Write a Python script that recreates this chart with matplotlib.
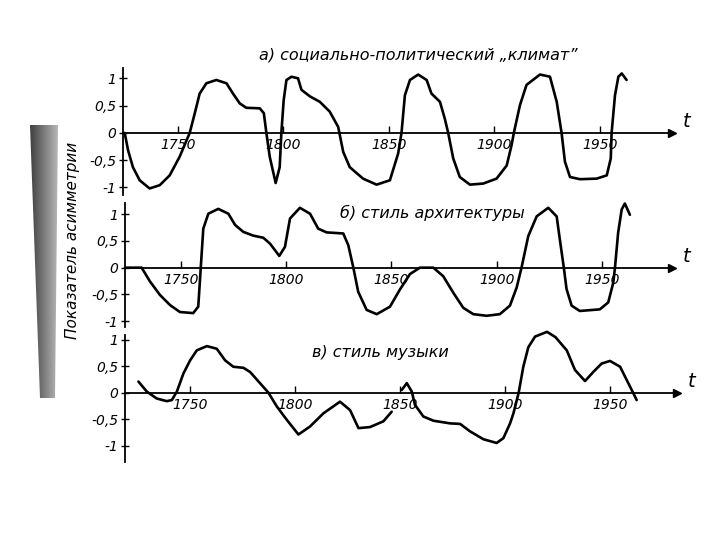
import numpy as np
import matplotlib.pyplot as plt
from matplotlib.patches import Polygon

# Данные: годы и показатель асимметрии
years_a = [1724.9, 1726.5, 1728.8, 1732, 1736.7, 1741.5, 1746.2, 1750.9, 1755.7, 1758.1,
           1760.4, 1763.6, 1768.3, 1773.1, 1776.2, 1779.4, 1782.5, 1788.9, 1790.8, 1792,
           1793.6, 1796.4, 1798.3, 1799.1, 1800.2, 1801.5, 1803.9, 1807, 1808.6, 1812.6,
           1817.3, 1822, 1826, 1828.4, 1831.5, 1837.8, 1844.2, 1850.5, 1854.4, 1856,
           1857.6, 1860, 1863.9, 1867.9, 1870.2, 1874.2, 1876.5, 1878.1, 1880.5, 1883.6,
           1888.4, 1894.7, 1901, 1905.8, 1908.1, 1909.2, 1912.1, 1915.2, 1921.6, 1926.3,
           1929.5, 1931.8, 1933.4, 1935.8, 1940.5, 1948.4, 1953.2, 1955.1, 1955.5, 1957.1,
           1958.7, 1960.3, 1962.6]
values_a = [0, -0.32, -0.63, -0.87, -1.02, -0.96, -0.78, -0.44, 0, 0.36,
            0.72, 0.91, 0.97, 0.91, 0.72, 0.54, 0.46, 0.45, 0.36, 0,
            -0.44, -0.92, -0.63, 0, 0.6, 0.97, 1.03, 1.0, 0.79, 0.67,
            0.57, 0.39, 0.11, -0.35, -0.63, -0.84, -0.95, -0.87, -0.38, 0,
            0.69, 0.97, 1.07, 0.97, 0.72, 0.57, 0.26, 0, -0.47, -0.81,
            -0.95, -0.93, -0.84, -0.6, -0.23, 0, 0.51, 0.88, 1.07, 1.03,
            0.57, 0, -0.53, -0.81, -0.85, -0.84, -0.78, -0.47, 0, 0.69,
            1.03, 1.09, 0.97]

years_b = [1723.4, 1731.3, 1735.3, 1740, 1744.8, 1749.5, 1755.8, 1758.2, 1759.4, 1760.6,
           1763, 1767.7, 1772.5, 1775.7, 1779.6, 1784.3, 1789.1, 1792.3, 1796.7, 1799.4,
           1801.8, 1806.5, 1811.3, 1815.2, 1819.2, 1827.1, 1829.5, 1831.9, 1834.2, 1838.2,
           1843, 1849.3, 1854, 1858.8, 1863.5, 1869.9, 1874.6, 1879.4, 1884.1, 1888.9,
           1895.2, 1901.5, 1906.3, 1909.5, 1911.8, 1915, 1919, 1924.5, 1928.5, 1930,
           1931.9, 1933.2, 1935.6, 1939.5, 1949, 1953, 1955.4, 1956.2, 1957.7, 1959.4,
           1960.9, 1963.3]
values_b = [0, 0, -0.26, -0.51, -0.7, -0.83, -0.85, -0.73, 0, 0.73,
            1.01, 1.1, 1.01, 0.8, 0.67, 0.6, 0.56, 0.45, 0.22, 0.39,
            0.92, 1.12, 1.01, 0.73, 0.66, 0.64, 0.42, 0, -0.45, -0.79,
            -0.87, -0.73, -0.41, -0.12, 0, 0, -0.16, -0.47, -0.75, -0.87,
            -0.9, -0.87, -0.71, -0.37, 0, 0.59, 0.96, 1.12, 0.96, 0.53,
            0, -0.4, -0.71, -0.81, -0.78, -0.65, -0.28, 0, 0.65, 1.09,
            1.2, 0.99]

# стиль музыки: две части (разрыв около 1850 г.)
years_c1 = [1725.4, 1729.4, 1734.1, 1738.9, 1741.3, 1743.7, 1746.8, 1750, 1753.2, 1758,
            1762.7, 1766.7, 1770.6, 1775.4, 1778.6, 1783.3, 1787.3, 1791.3, 1796, 1801.6,
            1807.1, 1813.5, 1821.4, 1826.2, 1830.2, 1835.7, 1842.1, 1846]
values_c1 = [0.21, 0.02, -0.11, -0.16, -0.14, 0.02, 0.36, 0.61, 0.8, 0.88,
             0.83, 0.61, 0.49, 0.47, 0.39, 0.18, 0, -0.26, -0.51, -0.79,
             -0.64, -0.39, -0.17, -0.33, -0.67, -0.65, -0.54, -0.36]
years_c2 = [1850.8, 1853.2, 1855.6, 1857.1, 1861.1, 1865.9, 1873.8, 1878.6, 1883.3, 1889.7,
            1896, 1899.2, 1902.4, 1904, 1906.5, 1908.7, 1911.1, 1914.3, 1920, 1924,
            1929.4, 1933.3, 1938.1, 1942, 1946, 1950, 1954.8, 1958.7, 1961.1, 1962.7]
values_c2 = [0.05, 0.18, 0.02, -0.23, -0.45, -0.53, -0.58, -0.59, -0.73, -0.88,
             -0.95, -0.86, -0.58, -0.39, 0, 0.49, 0.86, 1.06, 1.15, 1.05,
             0.8, 0.43, 0.22, 0.39, 0.55, 0.6, 0.49, 0.18, -0.01, -0.14]

year_ticks = [1750, 1800, 1850, 1900, 1950]
value_ticks = [1, 0.5, 0, -0.5, -1]
value_labels = ['1', '0,5', '0', '-0,5', '-1']

titles = ['а) социально-политический „климат”', 'б) стиль архитектуры', 'в) стиль музыки']
ylabel = 'Показатель асимметрии'

W, H = 720, 540
fig = plt.figure(figsize=(7.2, 5.4), dpi=100)


def add_panel(left, right, top, bottom, xlim, ylim):
    ax = fig.add_axes([left / W, 1 - bottom / H, (right - left) / W, (bottom - top) / H])
    ax.set_xlim(*xlim)
    ax.set_ylim(*ylim)
    ax.patch.set_alpha(0)
    for s in ['top', 'right']:
        ax.spines[s].set_visible(False)
    ax.spines['bottom'].set_position(('data', 0))
    ax.spines['left'].set_linewidth(1.3)
    ax.spines['bottom'].set_linewidth(1.3)
    ax.set_yticks(value_ticks)
    ax.set_yticklabels(value_labels, fontsize=10, style='italic')
    ax.set_xticks(year_ticks)
    ax.set_xticklabels([str(y) for y in year_ticks], fontsize=10, style='italic')
    ax.tick_params(axis='y', direction='inout', length=6, width=1, pad=2)
    ax.tick_params(axis='x', direction='in', length=5, width=1, pad=4)
    ax.plot(1, 0, '>', color='black', markersize=6, transform=ax.get_yaxis_transform(), clip_on=False)
    ax.text(1.02, 0.03, 't', transform=ax.get_yaxis_transform(), fontsize=14,
            style='italic', ha='left', va='bottom')
    return ax


line_kw = dict(color='black', lw=1.9, clip_on=False, solid_joinstyle='round', solid_capstyle='round')

ax_a = add_panel(123, 672, 68, 195, (1724.1, 1984.1), (-1.14, 1.19))
ax_a.plot(years_a, values_a, **line_kw)

ax_b = add_panel(125, 672, 203, 327, (1723.4, 1983.3), (-1.11, 1.21))
ax_b.plot(years_b, values_b, **line_kw)

ax_c = add_panel(125, 677, 335, 462, (1719, 1981.9), (-1.31, 1.09))
ax_c.plot(years_c1, values_c1, **line_kw)
ax_c.plot(years_c2, values_c2, **line_kw)

# подписи панелей
fig.text(418 / W, 1 - 55 / H, titles[0], fontsize=11.5, style='italic', ha='center', va='center')
fig.text(432 / W, 1 - 213 / H, titles[1], fontsize=11.5, style='italic', ha='center', va='center')
fig.text(380 / W, 1 - 352 / H, titles[2], fontsize=11.5, style='italic', ha='center', va='center')

fig.text(73 / W, 1 - 240 / H, ylabel, fontsize=11, style='italic', rotation=90,
         ha='center', va='center')

# тёмная полоса скана слева (градиент)
band_ax = fig.add_axes([0, 0, 1, 1], zorder=-1)
band_ax.set_xlim(0, W)
band_ax.set_ylim(H, 0)
band_ax.axis('off')
grad = np.linspace(0.25, 0.75, 64).reshape(1, -1)
img = band_ax.imshow(grad, cmap='gray', vmin=0, vmax=1, extent=(30, 60, 398, 125), aspect='auto')
band = Polygon([(30, 125), (58, 125), (55, 398), (40, 398)], closed=True, transform=band_ax.transData,
               facecolor='none', edgecolor='none')
band_ax.add_patch(band)
img.set_clip_path(band)

fig.savefig('out.png', dpi=100)
